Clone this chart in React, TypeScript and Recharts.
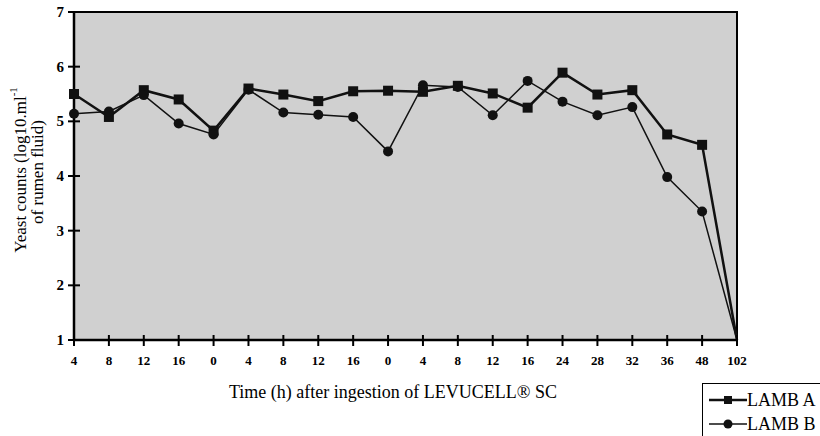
import { LineChart, Line, XAxis, YAxis, ReferenceArea, Legend } from "recharts";

const timeLabels = ["4", "8", "12", "16", "0", "4", "8", "12", "16", "0", "4", "8", "12", "16", "24", "28", "32", "36", "48", "102"];
const lambA = [5.5, 5.08, 5.57, 5.4, 4.83, 5.6, 5.49, 5.37, 5.55, 5.56, 5.54, 5.65, 5.51, 5.25, 5.89, 5.49, 5.57, 4.76, 4.57, 1];
const lambB = [5.14, 5.18, 5.48, 4.96, 4.76, 5.58, 5.16, 5.12, 5.08, 4.45, 5.66, 5.63, 5.11, 5.74, 5.36, 5.11, 5.26, 3.98, 3.35, 1];
const yTicks = [1, 2, 3, 4, 5, 6, 7];

const chartData = timeLabels.map((t, i) => ({ t, a: lambA[i], b: lambB[i] }));

const FONT = '"Liberation Serif", "Times New Roman", serif';
const lastIndex = timeLabels.length - 1;

function XTick(props: any) {
  const { x, y, payload } = props;
  // y comes in 6px below the axis line (tickSize 6, no margin)
  return (
    <g>
      <line x1={x} x2={x} y1={y - 11} y2={y} stroke="#000" strokeWidth={2} />
      <text x={x} y={y + 19} textAnchor="middle" fontFamily={FONT} fontWeight="bold" fontSize={13} fill="#000">
        {payload.value}
      </text>
    </g>
  );
}

function YTick(props: any) {
  const { x, y, payload } = props;
  return (
    <g>
      <line x1={x} x2={x + 12} y1={y} y2={y} stroke="#000" strokeWidth={2} />
      <text x={x - 4} y={y + 5} textAnchor="end" fontFamily={FONT} fontWeight="bold" fontSize={15} fill="#000">
        {payload.value}
      </text>
    </g>
  );
}

function SquareDot(props: any) {
  const { cx, cy, index } = props;
  if (index === lastIndex) return <g key={`a-${index}`} />;
  return <rect key={`a-${index}`} x={cx - 5} y={cy - 5} width={10} height={10} fill="#111" />;
}

function CircleDot(props: any) {
  const { cx, cy, index } = props;
  if (index === lastIndex) return <g key={`b-${index}`} />;
  return <circle key={`b-${index}`} cx={cx} cy={cy} r={5} fill="#111" />;
}

function YLabel() {
  return (
    <g fontFamily={FONT} fontSize={17} fill="#000">
      <text x={20} y={170} textAnchor="middle" dominantBaseline="central" transform="rotate(-90 20 170)">
        Yeast counts (log10.ml<tspan dy={-7} fontSize={11}>-1</tspan>
      </text>
      <text x={37} y={172} textAnchor="middle" dominantBaseline="central" transform="rotate(-90 37 172)">
        of rumen fluid)
      </text>
    </g>
  );
}

function XLabel() {
  return (
    <text x={393} y={398} textAnchor="middle" fontFamily={FONT} fontSize={18} fill="#000">
      Time (h) after ingestion of LEVUCELL® SC
    </text>
  );
}

function LegendBox() {
  const row = { display: "flex", alignItems: "center", height: 24 } as const;
  return (
    <div
      style={{
        border: "1.5px solid #000",
        background: "#fff",
        width: 130,
        height: 60,
        paddingTop: 4,
        boxSizing: "border-box",
        fontFamily: FONT,
        fontSize: 18,
        color: "#000",
        whiteSpace: "nowrap",
      }}
    >
      <div style={row}>
        <svg width={40} height={14} style={{ marginLeft: 4 }}>
          <line x1={2} x2={40} y1={7} y2={7} stroke="#111" strokeWidth={2.5} />
          <rect x={17} y={3} width={8} height={8} fill="#111" />
        </svg>
        <span>LAMB A</span>
      </div>
      <div style={row}>
        <svg width={40} height={14} style={{ marginLeft: 4 }}>
          <line x1={2} x2={40} y1={7} y2={7} stroke="#111" strokeWidth={1.5} />
          <circle cx={21} cy={7} r={4.5} fill="#111" />
        </svg>
        <span>LAMB B</span>
      </div>
    </div>
  );
}

export default function App() {
  return (
    <div style={{ position: "absolute", left: 0, top: 0, width: 820, height: 436, overflow: "hidden", background: "#fff" }}>
      <LineChart width={820} height={436} data={chartData} margin={{ top: 12, right: 83, left: 0, bottom: 66 }}>
        <ReferenceArea y1={1} y2={7} fill="#d0d0d0" fillOpacity={1} stroke="#000" strokeWidth={2} />
        <XAxis
          dataKey="t"
          interval={0}
          height={30}
          tickSize={6}
          tickMargin={0}
          tickLine={false}
          axisLine={{ stroke: "#000", strokeWidth: 2.5 }}
          tick={<XTick />}
          label={{ content: () => <XLabel /> }}
        />
        <YAxis
          type="number"
          domain={[1, 7]}
          ticks={yTicks}
          width={74}
          tickSize={6}
          tickMargin={0}
          tickLine={false}
          axisLine={{ stroke: "#000", strokeWidth: 2.5 }}
          tick={<YTick />}
          label={{ content: () => <YLabel /> }}
        />
        <Legend
          layout="vertical"
          align="center"
          verticalAlign="middle"
          wrapperStyle={{ left: 702, top: 383, width: 130 }}
          content={() => <LegendBox />}
        />
        <Line
          type="linear"
          dataKey="a"
          name="LAMB A"
          stroke="#111"
          strokeWidth={2.5}
          dot={(p: any) => <SquareDot {...p} key={`a-${p.index}`} />}
          activeDot={false}
          isAnimationActive={false}
        />
        <Line
          type="linear"
          dataKey="b"
          name="LAMB B"
          stroke="#111"
          strokeWidth={1.5}
          dot={(p: any) => <CircleDot {...p} key={`b-${p.index}`} />}
          activeDot={false}
          isAnimationActive={false}
        />
      </LineChart>
    </div>
  );
}
